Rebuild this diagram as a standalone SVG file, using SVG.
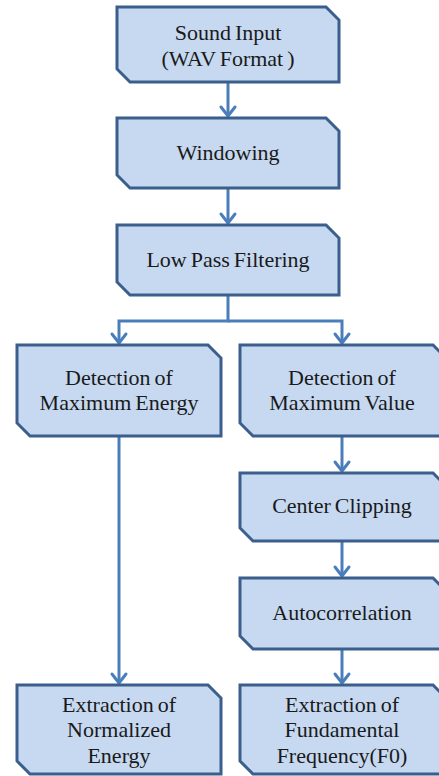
<svg xmlns="http://www.w3.org/2000/svg" width="439" height="776" viewBox="0 0 439 776">
<defs>
<marker id="arr" markerUnits="userSpaceOnUse" markerWidth="20" markerHeight="20" refX="10" refY="10" orient="auto" overflow="visible">
<path d="M1,3 L10,10 L1,17" fill="none" stroke="#4a7ebb" stroke-width="3" stroke-linecap="round" stroke-linejoin="round"/>
</marker>
<style>
.box{fill:#c6d9f1;stroke:#3a5f8c;stroke-width:3;stroke-linejoin:miter}
.c{fill:none;stroke:#4a7ebb;stroke-width:3}
</style>
</defs>
<g id="connectors">
<path class="c" d="M228,82 V116" marker-end="url(#arr)"/>
<path class="c" d="M228,188 V223" marker-end="url(#arr)"/>
<path class="c" d="M228,295 V321 H119 V343" marker-end="url(#arr)"/>
<path class="c" d="M228,321 H342 V343" marker-end="url(#arr)"/>
<path class="c" d="M119,436 V683" marker-end="url(#arr)"/>
<path class="c" d="M342,436 V471" marker-end="url(#arr)"/>
<path class="c" d="M342,541 V576" marker-end="url(#arr)"/>
<path class="c" d="M342,649 V683" marker-end="url(#arr)"/>
</g>
<g id="sound-input">
<path class="box" d="M117,7 H326 L339,20 V82 H130 L117,69 Z"/>
<text font-family="Liberation Serif, serif" font-size="22" fill="#1a1a1a" text-anchor="middle" word-spacing="-1.5" x="228" y="40">Sound Input</text>
<text font-family="Liberation Serif, serif" font-size="22" fill="#1a1a1a" text-anchor="middle" word-spacing="-1.5" x="228" y="66">(WAV Format )</text>
</g>
<g id="windowing">
<path class="box" d="M117,118 H326 L339,131 V188 H130 L117,175 Z"/>
<text font-family="Liberation Serif, serif" font-size="22" fill="#1a1a1a" text-anchor="middle" word-spacing="-1.5" x="228" y="160">Windowing</text>
</g>
<g id="low-pass">
<path class="box" d="M117,225 H326 L339,238 V295 H130 L117,282 Z"/>
<text font-family="Liberation Serif, serif" font-size="22" fill="#1a1a1a" text-anchor="middle" word-spacing="-1.5" x="228" y="267">Low Pass Filtering</text>
</g>
<g id="max-energy">
<path class="box" d="M17,345 H208 L221,358 V436 H30 L17,423 Z"/>
<text font-family="Liberation Serif, serif" font-size="22" fill="#1a1a1a" text-anchor="middle" word-spacing="-1.5" x="119" y="385">Detection of</text>
<text font-family="Liberation Serif, serif" font-size="22" fill="#1a1a1a" text-anchor="middle" word-spacing="-1.5" x="119" y="410">Maximum Energy</text>
</g>
<g id="max-value">
<path class="box" d="M240,345 H433 L446,358 V436 H253 L240,423 Z"/>
<text font-family="Liberation Serif, serif" font-size="22" fill="#1a1a1a" text-anchor="middle" word-spacing="-1.5" x="342" y="385">Detection of</text>
<text font-family="Liberation Serif, serif" font-size="22" fill="#1a1a1a" text-anchor="middle" word-spacing="-1.5" x="342" y="410">Maximum Value</text>
</g>
<g id="center-clipping">
<path class="box" d="M240,473 H433 L446,486 V541 H253 L240,528 Z"/>
<text font-family="Liberation Serif, serif" font-size="22" fill="#1a1a1a" text-anchor="middle" word-spacing="-1.5" x="342" y="513">Center Clipping</text>
</g>
<g id="autocorrelation">
<path class="box" d="M240,578 H433 L446,591 V649 H253 L240,636 Z"/>
<text font-family="Liberation Serif, serif" font-size="22" fill="#1a1a1a" text-anchor="middle" word-spacing="-1.5" x="342" y="620">Autocorrelation</text>
</g>
<g id="normalized-energy">
<path class="box" d="M17,685 H208 L221,698 V774 H30 L17,761 Z"/>
<text font-family="Liberation Serif, serif" font-size="22" fill="#1a1a1a" text-anchor="middle" word-spacing="-1.5" x="119" y="712">Extraction of</text>
<text font-family="Liberation Serif, serif" font-size="22" fill="#1a1a1a" text-anchor="middle" word-spacing="-1.5" x="119" y="737">Normalized</text>
<text font-family="Liberation Serif, serif" font-size="22" fill="#1a1a1a" text-anchor="middle" word-spacing="-1.5" x="119" y="763">Energy</text>
</g>
<g id="fundamental-frequency">
<path class="box" d="M240,685 H433 L446,698 V774 H253 L240,761 Z"/>
<text font-family="Liberation Serif, serif" font-size="22" fill="#1a1a1a" text-anchor="middle" word-spacing="-1.5" x="342" y="712">Extraction of</text>
<text font-family="Liberation Serif, serif" font-size="22" fill="#1a1a1a" text-anchor="middle" word-spacing="-1.5" x="342" y="737">Fundamental</text>
<text font-family="Liberation Serif, serif" font-size="22" fill="#1a1a1a" text-anchor="middle" word-spacing="-1.5" x="342" y="763">Frequency(F0)</text>
</g>
</svg>
